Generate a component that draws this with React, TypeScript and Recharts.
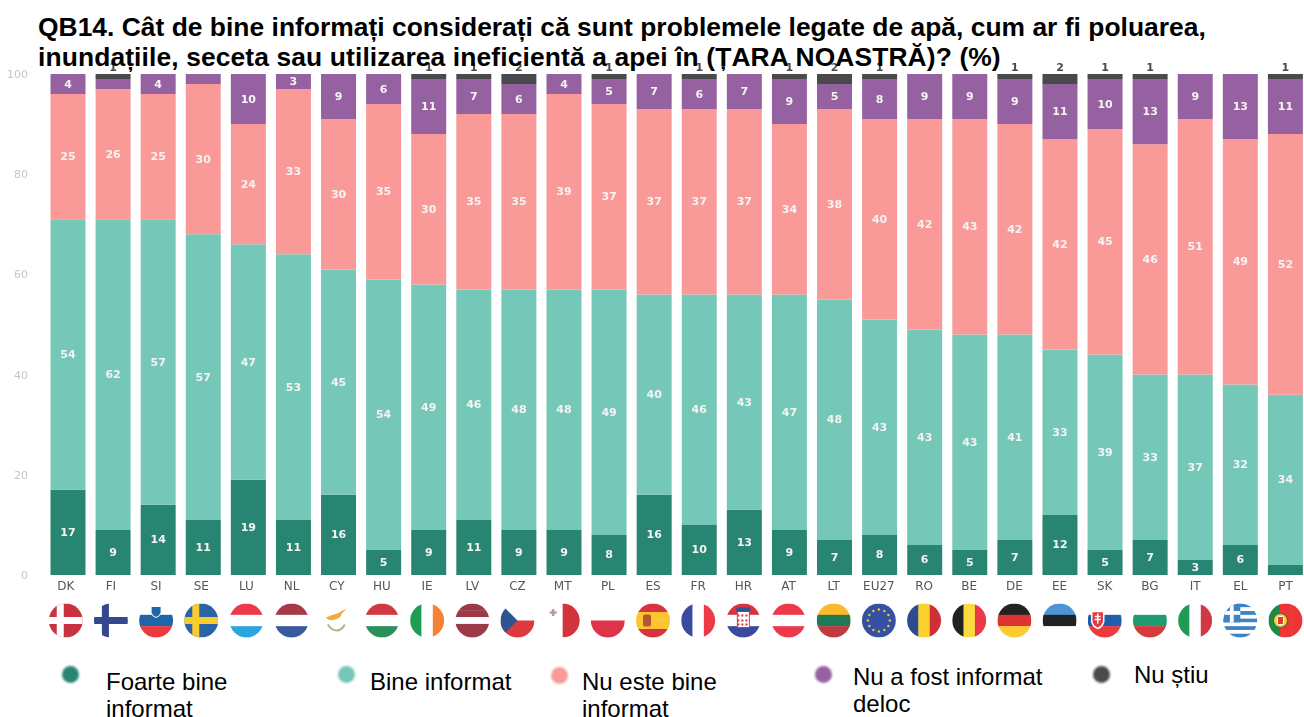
import { BarChart, Bar, XAxis, YAxis, LabelList } from 'recharts'

const categories = ['DK', 'FI', 'SI', 'SE', 'LU', 'NL', 'CY', 'HU', 'IE', 'LV', 'CZ', 'MT', 'PL', 'ES', 'FR', 'HR', 'AT', 'LT', 'EU27', 'RO', 'BE', 'DE', 'EE', 'SK', 'BG', 'IT', 'EL', 'PT']
const veryWell = [17, 9, 14, 11, 19, 11, 16, 5, 9, 11, 9, 9, 8, 16, 10, 13, 9, 7, 8, 6, 5, 7, 12, 5, 7, 3, 6, 2]
const well = [54, 62, 57, 57, 47, 53, 45, 54, 49, 46, 48, 48, 49, 40, 46, 43, 47, 48, 43, 43, 43, 41, 33, 39, 33, 37, 32, 34]
const notWell = [25, 26, 25, 30, 24, 33, 30, 35, 30, 35, 35, 39, 37, 37, 37, 37, 34, 38, 40, 42, 43, 42, 42, 45, 46, 51, 49, 52]
const notAtAll = [4, 2, 4, 2, 10, 3, 9, 6, 11, 7, 6, 4, 5, 7, 6, 7, 9, 5, 8, 9, 9, 9, 11, 10, 13, 9, 13, 11]
const dontKnow = [0, 1, 0, 0, 0, 0, 0, 0, 1, 1, 2, 0, 1, 0, 1, 0, 1, 2, 1, 0, 0, 1, 2, 1, 1, 0, 0, 1]
const yTicks = [0, 20, 40, 60, 80, 100]

const titleLines = [
  'QB14. Cât de bine informați considerați că sunt problemele legate de apă, cum ar fi poluarea,',
  'inundațiile, seceta sau utilizarea ineficientă a apei în (ȚARA NOASTRĂ)? (%)',
]
const titleSpacing = [0.02, 0.12]

const GREEN = '#288571'
const TEAL = '#75c7b8'
const SALMON = '#f99a98'
const PURPLE = '#9661a1'
const DARK = '#4a4a4d'

const legendItems = [
  { lines: ['Foarte bine', 'informat'], color: GREEN, dotX: 70, dotY: 674, x: 106, y: 668 },
  { lines: ['Bine informat'], color: TEAL, dotX: 346, dotY: 674, x: 370, y: 668 },
  { lines: ['Nu este bine', 'informat'], color: SALMON, dotX: 559, dotY: 675, x: 582, y: 668 },
  { lines: ['Nu a fost informat', 'deloc'], color: PURPLE, dotX: 823, dotY: 674, x: 853, y: 663 },
  { lines: ['Nu știu'], color: DARK, dotX: 1101, dotY: 674, x: 1134, y: 661 },
]

// simple striped flags, the few special ones get extra shapes below
const hStripes: Record<string, string[]> = {
  SI: ['#ffffff', '#1f66a8', '#ee3a3c'],
  LU: ['#ed3a4a', '#ffffff', '#2ba6de'],
  NL: ['#a83a48', '#ffffff', '#3a5a9c'],
  HU: ['#cf3a42', '#ffffff', '#2a8f5a'],
  LV: ['#9c3a48', '#9c3a48', '#ffffff', '#9c3a48', '#9c3a48'],
  PL: ['#ffffff', '#de3348'],
  CZ: ['#ffffff', '#dc3a3c'],
  HR: ['#d8343f', '#ffffff', '#3a4a9c'],
  AT: ['#ed3a4a', '#ffffff', '#ed3a4a'],
  LT: ['#fdb92e', '#1f7a55', '#c13a40'],
  DE: ['#222222', '#dd3333', '#fdcb2e'],
  EE: ['#4f94d4', '#222222', '#ffffff'],
  SK: ['#ffffff', '#1f5ea8', '#ee3a3c'],
  BG: ['#ffffff', '#1f9b70', '#d63a3c'],
  ES: ['#d8343f', '#fcc42e', '#fcc42e', '#d8343f'],
}
const vStripes: Record<string, string[]> = {
  IE: ['#1f9b55', '#ffffff', '#f58233'],
  MT: ['#ffffff', '#d1343c'],
  FR: ['#3a4a9c', '#ffffff', '#ee3a46'],
  RO: ['#2f4a8f', '#fbd12e', '#cf3038'],
  BE: ['#222222', '#f8dc3e', '#ea3a48'],
  IT: ['#219a58', '#ffffff', '#d1383f'],
  PT: ['#1f8a45', '#ee3535', '#ee3535'],
}
const crossFlags: Record<string, string[]> = {
  DK: ['#c9323f', '#ffffff'],
  FI: ['#ffffff', '#35478f'],
  SE: ['#2a64a5', '#f9cc2d'],
}
const euStars = [0, 30, 60, 90, 120, 150, 180, 210, 240, 270, 300, 330]

function FlagShape({ code, cx, cy }: { code: string; cx: number; cy: number }) {
  const r = 17
  const left = cx - r
  const top = cy - r
  const size = r * 2
  const clipId = `flag-${code}`
  const parts = []

  if (hStripes[code]) {
    const list = hStripes[code]
    list.forEach((c, i) => parts.push(<rect key={i} x={left} y={top + (i * size) / list.length} width={size} height={size / list.length + 0.3} fill={c} />))
  }
  if (vStripes[code]) {
    const list = vStripes[code]
    list.forEach((c, i) => parts.push(<rect key={i} x={left + (i * size) / list.length} y={top} width={size / list.length + 0.3} height={size} fill={c} />))
  }
  if (crossFlags[code]) {
    const [bg, fg] = crossFlags[code]
    parts.push(<rect key="bg" x={left} y={top} width={size} height={size} fill={bg} />)
    parts.push(<rect key="h" x={left} y={cy - 3.5} width={size} height={7} fill={fg} />)
    parts.push(<rect key="v" x={cx - 9} y={top} width={7} height={size} fill={fg} />)
  }
  if (code === 'SI') parts.push(<path key="s" d={`M${cx - 5} ${cy - 14} h10 v6 q-1 4 -5 5 q-4 -1 -5 -5 z`} fill="#1f66a8" stroke="#fff" strokeWidth={1} />)
  if (code === 'CZ') parts.push(<path key="t" d={`M${left} ${top} L${cx} ${cy} L${left} ${top + size} Z`} fill="#2f5590" />)
  if (code === 'MT') parts.push(<path key="m" d={`M${cx - 13} ${cy - 8} h7 M${cx - 9.5} ${cy - 11.5} v7`} stroke="#b89aa3" strokeWidth={2.5} />)
  if (code === 'ES') parts.push(<rect key="e" x={cx - 10} y={cy - 6} width={8} height={12} rx={2} fill="#b5563a" />)
  if (code === 'HR') parts.push(<g key="c"><rect x={cx - 6} y={cy - 9} width={12} height={16} fill="#fff" stroke="#d8343f" strokeWidth={1} /><path d={`M${cx - 6} ${cy - 5} h12 M${cx - 6} ${cy} h12 M${cx - 6} ${cy + 4} h12`} stroke="#d8343f" strokeWidth={2} strokeDasharray="2 2" /><rect x={cx - 7} y={cy - 13} width={14} height={4} fill="#2f5590" /></g>)
  if (code === 'SK') parts.push(<g key="k"><path d={`M${cx - 13} ${cy - 9} h12 v10 q-1 5 -6 7 q-5 -2 -6 -7 z`} fill="#e33a3f" stroke="#fff" strokeWidth={1.5} /><path d={`M${cx - 7} ${cy - 7} v10 M${cx - 10} ${cy - 4} h6 M${cx - 10} ${cy - 1} h6`} stroke="#fff" strokeWidth={1.5} /></g>)
  if (code === 'PT') parts.push(<g key="p"><circle cx={cx - 5} cy={cy} r={7} fill="#f4d13a" stroke="#2a6a3a" strokeWidth={1} /><rect x={cx - 8} y={cy - 4} width={6} height={8} rx={1} fill="#d83a3a" stroke="#fff" strokeWidth={1} /></g>)
  if (code === 'EL') {
    for (let i = 0; i < 9; i++) parts.push(<rect key={i} x={left} y={top + (i * size) / 9} width={size} height={size / 9 + 0.2} fill={i % 2 ? '#ffffff' : '#3d84c6'} />)
    parts.push(<rect key="b" x={left} y={top} width={17} height={(size * 5) / 9} fill="#3d84c6" />)
    parts.push(<rect key="c1" x={left} y={top + 7.5} width={17} height={3.8} fill="#fff" />)
    parts.push(<rect key="c2" x={left + 6.6} y={top} width={3.8} height={19} fill="#fff" />)
  }
  if (code === 'EU27') {
    parts.push(<rect key="b" x={left} y={top} width={size} height={size} fill="#3651a3" />)
    euStars.forEach(a => parts.push(<circle key={a} cx={cx + 11 * Math.cos((a * Math.PI) / 180)} cy={cy + 11 * Math.sin((a * Math.PI) / 180)} r={1.2} fill="#e8c93e" />))
  }
  if (code === 'CY') {
    parts.push(<path key="i" d={`M${cx - 11} ${cy - 3} q5 -2 8 -3 q5 -1 7 -3 l6 -3 l-5 5 q-1 5 -7 6 q-6 2 -9 -2 z`} fill="#f3a93c" />)
    parts.push(<path key="l" d={`M${cx - 9} ${cy + 4} q4 6 9 6 q5 0 8 -6`} fill="none" stroke="#a7b98a" strokeWidth={2} />)
  }

  return (
    <g>
      <clipPath id={clipId}>
        <circle cx={cx} cy={cy} r={r} />
      </clipPath>
      <g clipPath={`url(#${clipId})`}>{parts}</g>
    </g>
  )
}

// country code plus its round flag underneath
function CountryTick({ x, y, payload, index }: any) {
  const shift = (index / 27 - 1) * 2.3
  return (
    <g>
      <text x={x + shift} y={y + 3} textAnchor="middle" dominantBaseline="middle" fontSize={12} fill="#55565a" fontFamily="DejaVu Sans">
        {payload.value}
      </text>
      <FlagShape code={payload.value} cx={x + shift} cy={620.5} />
    </g>
  )
}

function InnerLabel({ x, y, width, height, value }: any) {
  if (value < 3) return null
  return (
    <text x={x + width / 2} y={y + height / 2} textAnchor="middle" dominantBaseline="central" fontSize={11} fontWeight="bold" fill="#f6f3f3" fontFamily="DejaVu Sans">
      {value}
    </text>
  )
}

function TopLabel({ x, y, width, value }: any) {
  if (!value) return null
  return (
    <text x={x + width / 2} y={y - 3} textAnchor="middle" fontSize={11} fontWeight="bold" fill="#4a4a4d" fontFamily="DejaVu Sans">
      {value}
    </text>
  )
}

const rows = categories.map((name, i) => ({
  name,
  veryWell: veryWell[i],
  well: well[i],
  notWell: notWell[i],
  notAtAll: notAtAll[i],
  dontKnow: dontKnow[i],
}))

export default function App() {
  return (
    <div style={{ position: 'absolute', left: 0, top: 0, width: 1304, height: 717, overflow: 'hidden', background: '#fff' }}>
      <div style={{ filter: 'blur(0.4px)' }}>
        <BarChart width={1308} height={717} data={rows} margin={{ top: 74, right: 0, bottom: 0, left: 0 }} barSize={35}>
          <XAxis dataKey="name" height={142} axisLine={false} tickLine={false} interval={0} tick={CountryTick} />
          <YAxis width={45.5} domain={[0, 100]} ticks={yTicks} axisLine={false} tickLine={false} tickMargin={11.5} tick={{ fontSize: 11, fill: '#c9c5bf', fontFamily: 'DejaVu Sans' }} />
          <Bar dataKey="veryWell" stackId="a" fill={GREEN} isAnimationActive={false}>
            <LabelList dataKey="veryWell" content={InnerLabel} />
          </Bar>
          <Bar dataKey="well" stackId="a" fill={TEAL} isAnimationActive={false}>
            <LabelList dataKey="well" content={InnerLabel} />
          </Bar>
          <Bar dataKey="notWell" stackId="a" fill={SALMON} isAnimationActive={false}>
            <LabelList dataKey="notWell" content={InnerLabel} />
          </Bar>
          <Bar dataKey="notAtAll" stackId="a" fill={PURPLE} isAnimationActive={false}>
            <LabelList dataKey="notAtAll" content={InnerLabel} />
          </Bar>
          <Bar dataKey="dontKnow" stackId="a" fill={DARK} isAnimationActive={false}>
            <LabelList dataKey="dontKnow" content={TopLabel} />
          </Bar>
        </BarChart>
      </div>

      {titleLines.map((line, i) => (
        <div key={i} style={{ position: 'absolute', left: 38, top: 12 + i * 30, fontFamily: 'Liberation Sans', fontWeight: 'bold', fontSize: 26.4, letterSpacing: titleSpacing[i], lineHeight: '30px', color: '#000', whiteSpace: 'nowrap' }}>
          {line}
        </div>
      ))}

      {legendItems.map(item => (
        <div key={item.color}>
          <div style={{ position: 'absolute', left: item.dotX - 8.5, top: item.dotY - 8.5, width: 17, height: 17, borderRadius: 9, background: item.color, filter: 'blur(1px)' }} />
          <div style={{ position: 'absolute', left: item.x, top: item.y, fontFamily: 'Liberation Sans', fontSize: 24, lineHeight: '27px', color: '#000', whiteSpace: 'nowrap' }}>
            {item.lines.map(l => <div key={l}>{l}</div>)}
          </div>
        </div>
      ))}
    </div>
  )
}
